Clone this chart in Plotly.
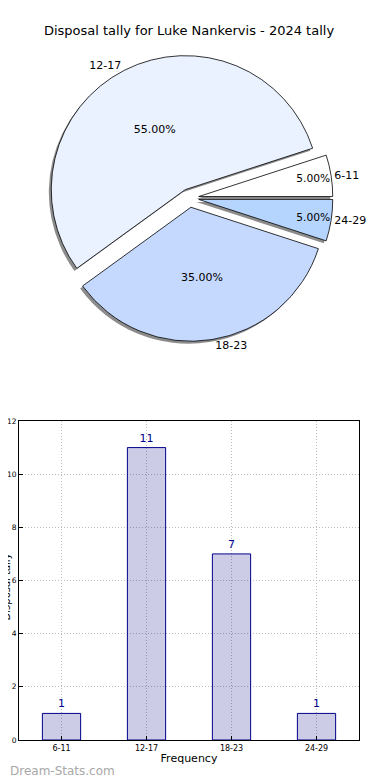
import plotly.graph_objects as go

# ---- data ----
categories = ["6-11", "12-17", "18-23", "24-29"]
counts = [1, 11, 7, 1]
pie_colors = ["#FFFFFF", "#EAF1FF", "#C5D9FF", "#B5D5FF"]
title_text = "Disposal tally for Luke Nankervis - 2024 tally"
y_title = "Disposal tally"
y_ticks = [0, 2, 4, 6, 8, 10, 12]

# the page places the figure 8px in from the top-left corner
OFF = 8
W, H = 390 - OFF, 780 - OFF
ML, MR, MT, MB = 19 - OFF, 390 - 370, 0, 780 - 740
PW, PH = W - ML - MR, H - MT - MB


def px_x(p):
    """reference screen pixel -> paper x"""
    return (p - OFF - ML) / PW


def px_y(p):
    """reference screen pixel -> paper y"""
    return 1 - (p - OFF - MT) / PH


pull = [0.07, 0.07, 0.07, 0.07]
cx, cy, half = 195, 198, 148
dom_x = [px_x(cx - half), px_x(cx + half)]
dom_y = [px_y(cy + half), px_y(cy - half)]
ROT = 72

fig = go.Figure()

# shadow
sx, sy = -2.5 / PW, -2.5 / PH
fig.add_trace(go.Pie(
    labels=categories, values=counts, sort=False, direction="counterclockwise",
    rotation=ROT, pull=pull, textinfo="none", hoverinfo="skip",
    marker=dict(colors=["rgba(0,0,0,0.45)"] * 4, line=dict(width=0)),
    domain=dict(x=[dom_x[0] + sx, dom_x[1] + sx], y=[dom_y[0] + sy, dom_y[1] + sy]),
    showlegend=False,
))

# main pie with percentages
fig.add_trace(go.Pie(
    labels=categories, values=counts, sort=False, direction="counterclockwise",
    rotation=ROT, pull=pull, texttemplate="%{percent:.2%}", textposition="inside",
    insidetextorientation="horizontal",
    textfont=dict(family="DejaVu Sans", size=11, color="black"),
    marker=dict(colors=pie_colors, line=dict(color="black", width=0.8)),
    domain=dict(x=dom_x, y=dom_y), showlegend=False,
))

# outside labels
fig.add_trace(go.Pie(
    labels=categories, values=counts, sort=False, direction="counterclockwise",
    rotation=ROT, pull=pull, textinfo="label", textposition="outside",
    textfont=dict(family="DejaVu Sans", size=11, color="black"),
    marker=dict(colors=["rgba(0,0,0,0)"] * 4, line=dict(width=0)),
    domain=dict(x=dom_x, y=dom_y), showlegend=False, hoverinfo="skip",
))

# bar chart
fig.add_trace(go.Bar(
    x=categories, y=counts, width=0.45,
    marker=dict(color="rgba(0,0,128,0.2)", line=dict(color="#00008B", width=1)),
    text=[str(c) for c in counts], textposition="outside", cliponaxis=False,
    textfont=dict(family="DejaVu Sans", size=11, color="#00008B"),
    showlegend=False, xaxis="x", yaxis="y",
))

grid = dict(showgrid=True, gridcolor="#bcbcbc", griddash="1px,2px", gridwidth=1)

fig.update_layout(
    width=W, height=H,
    margin=dict(l=ML, r=MR, t=MT, b=MB),
    paper_bgcolor="white", plot_bgcolor="white",
    font=dict(family="DejaVu Sans", color="black"),
    title=dict(text=title_text, x=0.5, xref="paper", y=1 - (30 - OFF) / H, yref="container",
               xanchor="center", yanchor="middle",
               font=dict(family="DejaVu Sans", size=13, color="black")),
    xaxis=dict(domain=[0, 1], anchor="y", range=[-0.5, 3.5], type="category",
               showline=True, mirror=True, linecolor="black", linewidth=1,
               ticks="inside", ticklen=4, tickcolor="black",
               tickfont=dict(size=8, family="DejaVu Sans"), automargin=False,
               title=dict(text="Frequency", font=dict(size=11), standoff=2), **grid),
    yaxis=dict(domain=[0, px_y(421)], anchor="x", range=[0, 12],
               tickvals=y_ticks, showline=True, mirror=True, linecolor="black", linewidth=1,
               ticks="inside", ticklen=4, tickcolor="black",
               tickfont=dict(size=7.5, family="DejaVu Sans"),
               zeroline=False, automargin=False, **grid),
    annotations=[
        dict(text="Dream-Stats.com", xref="paper", yref="paper",
             x=-ML / PW, y=px_y(771), xanchor="left", yanchor="middle",
             showarrow=False,
             font=dict(family="DejaVu Sans", size=12, color="#a8a8a8")),
        dict(text=y_title, xref="paper", yref="paper", textangle=-90,
             x=px_x(6), y=px_y(587), xanchor="center", yanchor="middle",
             showarrow=False, font=dict(family="DejaVu Sans", size=10, color="black")),
    ],
)

fig.write_html("out.html")
